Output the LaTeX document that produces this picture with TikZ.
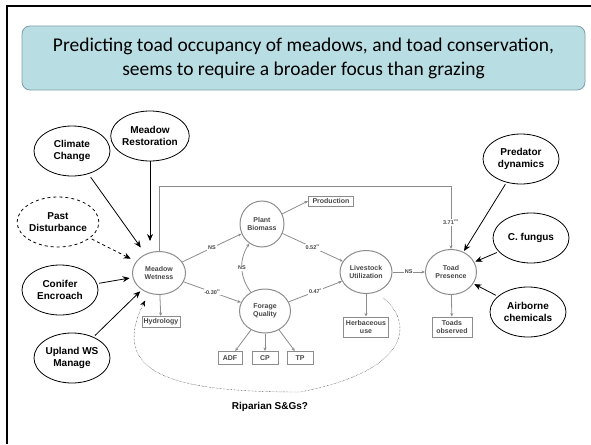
\documentclass[tikz,border=0pt]{standalone}
\usepackage{fontspec}
\setmainfont{Liberation Sans}
\newfontfamily\titlefont{Carlito}
\usetikzlibrary{shapes.geometric,arrows.meta}
\definecolor{titlefill}{RGB}{184,222,227}
\definecolor{titledraw}{RGB}{128,160,166}
\definecolor{semgray}{RGB}{140,140,140}
\definecolor{semtext}{RGB}{70,70,70}
\begin{document}
\begin{tikzpicture}[x=1pt,y=-1pt,
	factor/.style={ellipse,draw,thick,minimum width=76pt,minimum height=50pt,inner sep=0pt,align=center,font=\bfseries\fontsize{10}{12}\selectfont},
	latent/.style={ellipse,draw=semgray,line width=1pt,inner sep=0pt,align=center,text=semtext,font=\bfseries\fontsize{7}{8.5}\selectfont},
	indic/.style={rectangle,draw=semgray,line width=1pt,inner sep=1pt,align=center,text=semtext,font=\bfseries\fontsize{7}{8}\selectfont},
	cause/.style={thick,-{Stealth[length=7pt,width=6pt]}},
	semarrow/.style={semgray,line width=0.8pt,-{Stealth[length=3.5pt,width=3pt]}},
	coef/.style={fill=white,inner sep=0.8pt,text=semtext,font=\bfseries\fontsize{5.5}{6}\selectfont},
	]
	\useasboundingbox (0,0) rectangle (591,444);
	\draw[line width=2.5pt] (7,444) -- (7,6) -- (591,6);
	\node[rounded corners=8pt,fill=titlefill,draw=titledraw,thick,minimum width=563pt,minimum height=64pt,align=center,font=\titlefont\fontsize{19.5}{24}\selectfont] (title) at (303.5,58) {Predicting toad occupancy of meadows, and toad conservation,\\seems to require a broader focus than grazing};
	
	\node[latent,minimum width=53pt,minimum height=43pt] (wet) at (159,273) {Meadow\\Wetness};
	\node[latent,minimum width=44pt,minimum height=46pt] (plant) at (262,224) {Plant\\Biomass};
	\node[latent,minimum width=51pt,minimum height=44pt] (forage) at (265,311) {Forage\\Quality};
	\node[latent,minimum width=52pt,minimum height=43pt] (live) at (366,272) {Livestock\\Utilization};
	\node[latent,minimum width=51pt,minimum height=45pt] (toad) at (451,272) {Toad\\Presence};
	
	\node[indic,minimum width=45pt,minimum height=10pt] (prod) at (331,201) {Production};
	\node[indic,minimum width=38pt,minimum height=11pt] (hydro) at (161,322) {Hydrology};
	\node[indic,minimum width=24pt,minimum height=13pt] (adf) at (230,358) {ADF};
	\node[indic,minimum width=26pt,minimum height=13pt] (cp) at (265,358) {CP};
	\node[indic,minimum width=26pt,minimum height=13pt] (tp) at (300,358) {TP};
	\node[indic,minimum width=45pt,minimum height=20pt] (herb) at (366,327) {Herbaceous\\use};
	\node[indic,minimum width=40pt,minimum height=20pt] (tobs) at (452,327) {Toads\\observed};
	
	\node[factor] (climate) at (72,151) {Climate\\Change};
	\node[factor] (rest) at (150,136) {Meadow\\Restoration};
	\node[factor,dashed] (past) at (58,222) {Past\\Disturbance};
	\node[factor] (conifer) at (60,290) {Conifer\\Encroach};
	\node[factor] (upland) at (72,358) {Upland WS\\Manage};
	\node[factor] (pred) at (521,159) {Predator\\dynamics};
	\node[factor] (fungus) at (531,238) {C. fungus};
	\node[factor] (air) at (528,312) {Airborne\\chemicals};
	
	\draw[semarrow] (wet) -- node[coef] {NS} (plant);
	\draw[semarrow] (wet) -- node[coef] {-0.30\textsuperscript{**}} (forage);
	\draw[semarrow,{Stealth[length=3.5pt,width=3pt]}-] (plant) to[bend right=35] node[coef] {NS} (forage);
	\draw[semarrow] (plant) -- (prod.west);
	\draw[semarrow] (plant) -- node[coef] {0.52\textsuperscript{**}} (live);
	\draw[semarrow] (forage) -- node[coef] {0.47\textsuperscript{*}} (live);
	\draw[semarrow] (live) -- node[coef] {NS} (toad);
	\draw[semarrow] (wet) -- (hydro);
	\draw[semarrow] (forage) -- (adf);
	\draw[semarrow] (forage) -- (cp);
	\draw[semarrow] (forage) -- (tp);
	\draw[semarrow] (live) -- (herb);
	\draw[semarrow] (toad) -- (tobs);
	\coordinate (fbk) at (451,186);
	\draw[semarrow,line width=1pt] (wet.north) |- (fbk) -- node[coef,pos=0.58] {3.71\textsuperscript{***}} (toad.north);
	
	\draw[cause,shorten <=4pt,shorten >=8pt] (climate) -- (wet);
	\draw[cause,shorten >=10pt] (rest) -- (rest |- wet.north);
	\draw[cause,dashed,shorten <=2pt,shorten >=6pt] (past) -- (wet);
	\draw[cause,shorten <=2pt,shorten >=3pt] (conifer) -- (wet);
	\draw[cause,shorten <=2pt,shorten >=2pt] (upland) -- (wet);
	\draw[cause,shorten <=2pt,shorten >=1pt] (pred) -- (toad);
	\draw[cause,shorten <=2pt,shorten >=1pt] (fungus) -- (toad);
	\draw[cause,shorten <=2pt,shorten >=1pt] (air) -- (toad);
	
	\coordinate (ripstart) at (383,298);
	\draw[densely dotted,-{Stealth[length=6pt,width=5pt]},shorten >=8pt] (ripstart) .. controls (412,320) and (415,370) .. (300,392) .. controls (190,392) and (105,380) .. (wet);
	\node[font=\bfseries\fontsize{10}{12}\selectfont] (rip) at (270,407) {Riparian S\&Gs?};
\end{tikzpicture}
\end{document}
